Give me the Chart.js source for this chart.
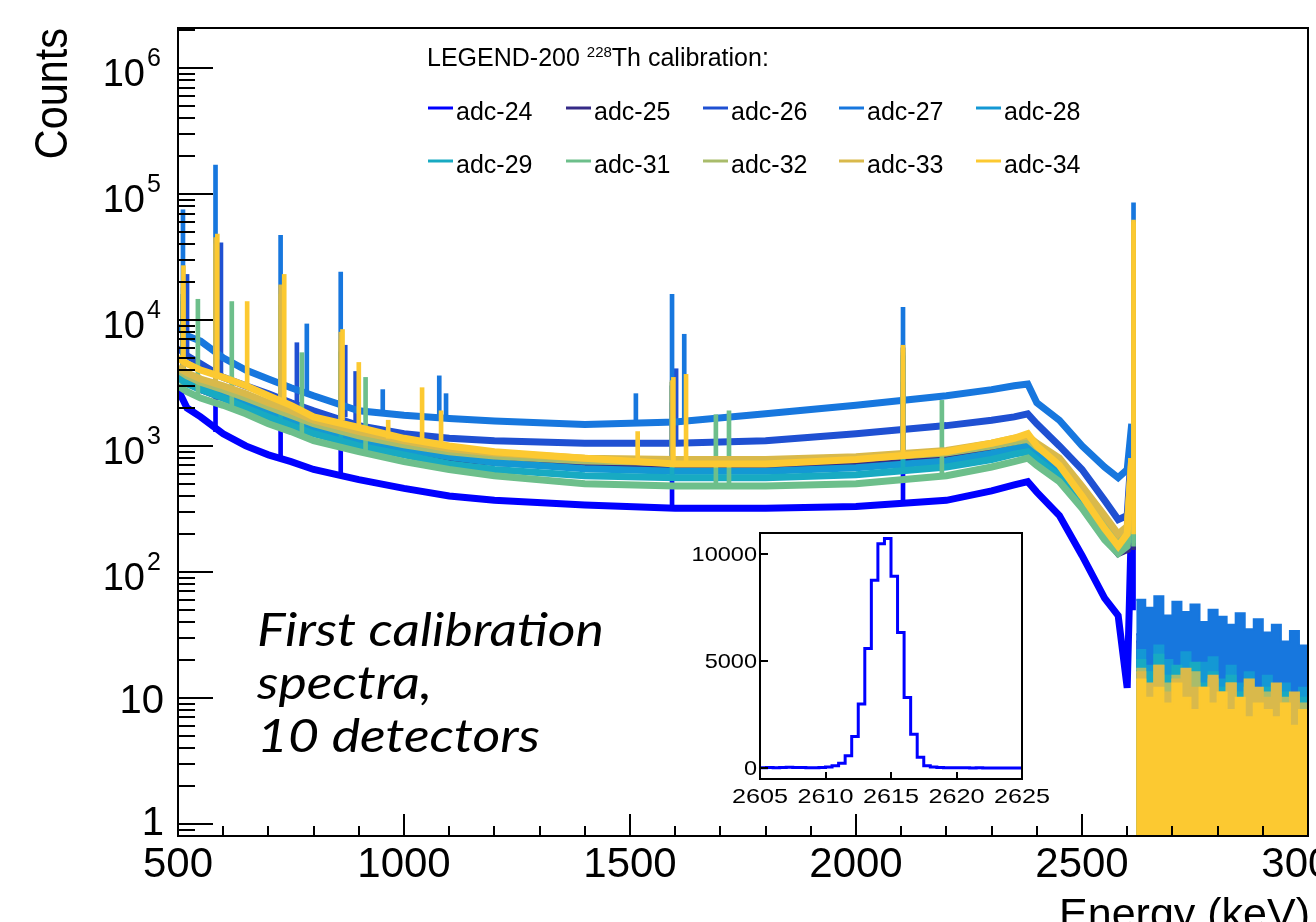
<!DOCTYPE html>
<html lang="en">
<head>
<meta charset="UTF-8">
<title>LEGEND-200 228Th calibration spectra</title>
<style>
    body {
        margin: 0;
        padding: 0;
        background: #fff;
    }
    #wrap {
        position: relative;
        width: 1316px;
        height: 922px;
        overflow: hidden;
    }
    #main { position: absolute; left: 0; top: 0; }
    #inset { position: absolute; left: 680px; top: 520px; }
</style>
</head>
<body>
<div id="wrap">
    <canvas id="main" width="1316" height="922"></canvas>
    <canvas id="inset" width="380" height="290"></canvas>
</div>

<script src="https://cdn.jsdelivr.net/npm/chart.js@4.4.1/dist/chart.umd.min.js"></script>
<script>
(function() {
    'use strict';

    // detectors, drawn in this order (last one on top)
    const detectors = ['adc-24', 'adc-25', 'adc-26', 'adc-27', 'adc-28', 'adc-29', 'adc-31', 'adc-32', 'adc-33', 'adc-34'];
    const lineColors = ['#0000ff', '#352a87', '#1f50d2', '#1777de', '#1498d4', '#18aac2', '#6dbf8b', '#a9bc6b', '#d9b94b', '#fcc931'];

    // continuum, counts per bin (keV)
    const energy = [500, 520, 550, 600, 650, 700, 750, 800, 900, 1000, 1100, 1200, 1400, 1600, 1800, 2000, 2200, 2300, 2350, 2380, 2400, 2450, 2500, 2550, 2580, 2600, 2610];
    const counts24 = [2800, 2000, 1700, 1250, 1000, 850, 750, 650, 540, 460, 400, 370, 340, 320, 320, 330, 370, 440, 490, 520, 430, 280, 135, 62, 45, 12, 300];
    const counts25 = [3600, 3200, 2800, 2400, 2100, 1800, 1550, 1350, 1100, 920, 800, 740, 680, 650, 660, 700, 800, 920, 1000, 1050, 850, 600, 330, 190, 140, 150, 700];
    const counts26 = [6000, 5200, 4500, 3500, 3000, 2600, 2200, 1900, 1450, 1250, 1150, 1100, 1050, 1050, 1100, 1250, 1450, 1600, 1700, 1800, 1500, 1000, 650, 370, 260, 280, 1000];
    const counts27 = [9000, 7500, 6800, 5000, 4000, 3400, 2900, 2500, 1900, 1750, 1650, 1580, 1480, 1550, 1800, 2100, 2500, 2800, 3000, 3100, 2200, 1600, 1000, 680, 560, 650, 1500];
    const counts28 = [3800, 3300, 3000, 2600, 2200, 1850, 1600, 1400, 1120, 950, 820, 740, 660, 630, 630, 670, 760, 870, 950, 1000, 850, 620, 360, 210, 160, 180, 700];
    const counts29 = [3500, 3100, 2800, 2400, 2000, 1700, 1450, 1250, 1000, 850, 720, 650, 580, 560, 560, 590, 680, 780, 860, 900, 780, 580, 350, 200, 150, 170, 650];
    const counts31 = [3000, 2700, 2400, 2100, 1800, 1500, 1300, 1100, 900, 750, 650, 580, 500, 480, 480, 500, 580, 680, 750, 800, 700, 520, 320, 180, 140, 160, 600];
    const counts32 = [4000, 3600, 3200, 2800, 2400, 2050, 1750, 1500, 1200, 1020, 900, 830, 760, 740, 750, 790, 880, 1000, 1080, 1130, 980, 740, 440, 250, 180, 210, 750];
    const counts33 = [4200, 3800, 3400, 3000, 2600, 2200, 1900, 1600, 1300, 1100, 950, 880, 800, 780, 780, 820, 920, 1050, 1150, 1200, 1050, 800, 480, 280, 200, 230, 800];
    const counts34 = [5000, 4500, 4000, 3500, 3000, 2500, 2100, 1700, 1400, 1150, 1000, 900, 800, 720, 720, 780, 900, 1050, 1150, 1250, 1000, 700, 400, 220, 160, 200, 800];

    // gamma lines: [energy, continuum under the line, peak top]
    const peaks24 = [[511, 2600, 14000], [583, 1300, 26000], [727, 820, 9000], [860, 600, 4000], [1593, 330, 2200], [2104, 360, 3200], [2614, 50, 50000]];
    const peaks25 = [[511, 3500, 16000], [583, 2500, 32000], [727, 1700, 12000], [860, 1200, 5500], [1593, 650, 3000], [2104, 760, 5200], [2614, 150, 55000]];
    const peaks26 = [[520, 5200, 23000], [595, 3500, 41000], [763, 2150, 6600], [870, 1700, 6300], [893, 1550, 3900], [1602, 1050, 4100], [2104, 1400, 6000], [2614, 300, 58000]];
    const peaks27 = [[511, 8500, 75000], [583, 5100, 170000], [727, 3300, 47000], [785, 2700, 9300], [860, 2100, 24000], [953, 1800, 2800], [1078, 1650, 3600], [1093, 1640, 2600], [1513, 1500, 2600], [1593, 1520, 16000], [1620, 1540, 7700], [2104, 2300, 12600], [2614, 650, 85000]];
    const peaks28 = [[511, 3700, 16000], [583, 2600, 33000], [727, 1800, 13000], [860, 1300, 5600], [1593, 630, 3200], [2104, 700, 5500], [2614, 180, 57000]];
    const peaks29 = [[511, 3400, 15000], [583, 2400, 30000], [727, 1600, 12000], [860, 1150, 5000], [1593, 560, 3000], [2104, 620, 5000], [2614, 170, 56000]];
    const peaks31 = [[544, 2450, 14600], [619, 2000, 14000], [774, 1200, 5500], [915, 880, 3500], [1690, 480, 1770], [1719, 480, 1900], [2190, 570, 2300], [2614, 160, 52000]];
    const peaks32 = [[511, 3900, 18000], [583, 2850, 40000], [727, 1900, 16000], [860, 1450, 7000], [1593, 740, 3200], [2104, 850, 5800], [2614, 210, 58000]];
    const peaks33 = [[511, 4100, 20000], [583, 3050, 45000], [727, 2050, 19000], [860, 1550, 8000], [1593, 780, 3300], [2104, 900, 6000], [2614, 230, 60000]];
    const peaks34 = [[512, 4900, 27000], [587, 3450, 48000], [653, 2950, 14000], [735, 2250, 23000], [864, 1600, 8400], [900, 1400, 4600], [965, 1150, 1600], [1040, 1050, 2900], [1082, 980, 1900], [1517, 760, 1300], [1596, 720, 3500], [1624, 720, 3700], [2104, 800, 6300], [2614, 200, 62000]];

    // above the 2614 keV line
    const tailEnergy = [2620, 2640, 2660, 2680, 2700, 2720, 2740, 2760, 2780, 2800, 2820, 2840, 2860, 2880, 2900, 2920, 2940, 2960, 2980, 3000];
    const tail24 = [3, 2, 3, 2, 2, 3, 2, 2, 2, 2, 2, 2, 2, 2, 2, 2, 2, 2, 2, 2];
    const tail25 = [28, 22, 30, 20, 25, 18, 22, 16, 24, 19, 15, 20, 14, 17, 13, 16, 12, 14, 11, 13];
    const tail26 = [32, 24, 36, 26, 22, 30, 24, 19, 27, 21, 18, 24, 17, 20, 15, 19, 14, 17, 13, 15];
    const tail27 = [60, 52, 64, 45, 58, 48, 55, 40, 50, 44, 38, 47, 35, 42, 33, 38, 28, 34, 26, 30];
    const tail28 = [24, 18, 26, 20, 17, 23, 15, 19, 21, 14, 18, 13, 16, 12, 15, 11, 13, 10, 12, 10];
    const tail29 = [20, 16, 22, 15, 18, 14, 19, 13, 16, 12, 15, 11, 14, 10, 12, 9, 11, 9, 10, 8];
    const tail31 = [14, 11, 15, 10, 12, 9, 13, 10, 11, 8, 10, 7, 9, 8, 9, 6, 8, 6, 7, 6];
    const tail32 = [17, 12, 18, 13, 15, 11, 16, 12, 14, 10, 13, 9, 12, 10, 11, 8, 10, 8, 9, 7];
    const tail33 = [16, 13, 18, 11, 14, 17, 12, 10, 15, 11, 13, 9, 14, 12, 10, 13, 9, 11, 8, 9];
    const tail34 = [14, 10, 12, 9, 13, 10, 8, 12, 9, 11, 8, 10, 7, 9, 8, 7, 9, 6, 8, 7];

    // inset: adc-24 around 2614.5 keV, 0.5 keV bins (left edges, last = right end)
    const insetEnergy = [2605, 2605.5, 2606, 2606.5, 2607, 2607.5, 2608, 2608.5, 2609, 2609.5,
        2610, 2610.5, 2611, 2611.5, 2612, 2612.5, 2613, 2613.5, 2614, 2614.5,
        2615, 2615.5, 2616, 2616.5, 2617, 2617.5, 2618, 2618.5, 2619, 2619.5,
        2620, 2620.5, 2621, 2621.5, 2622, 2622.5, 2623, 2623.5, 2624, 2624.5, 2625];
    const insetCounts = [20, 25, 20, 30, 35, 30, 25, 20, 15, 25,
        45, 110, 230, 570, 1470, 2990, 5580, 8760, 10460, 10700,
        8940, 6320, 3290, 1580, 500, 110, 45, 25, 20, 15,
        12, 10, 8, 10, 6, 8, 5, 6, 4, 5, 5];

    // axis ticks
    const energyTicks = [500, 1000, 1500, 2000, 2500, 3000];
    const countDecades = [0, 1, 2, 3, 4, 5, 6];
    const insetEnergyTicks = [2605, 2610, 2615, 2620, 2625];
    const insetCountTicks = [0, 5000, 10000];

    const continuum = [counts24, counts25, counts26, counts27, counts28, counts29, counts31, counts32, counts33, counts34];
    const peaks = [peaks24, peaks25, peaks26, peaks27, peaks28, peaks29, peaks31, peaks32, peaks33, peaks34];
    const tails = [tail24, tail25, tail26, tail27, tail28, tail29, tail31, tail32, tail33, tail34];

    const SANS = '"Liberation Sans", Arial, Helvetica, sans-serif';

    function txt(ctx, s, x, y, size, align, opt) {
        opt = opt || {};
        ctx.save();
        ctx.font = (opt.style || '') + ' ' + size + 'px ' + (opt.family || SANS);
        ctx.fillStyle = opt.color || '#000';
        ctx.textAlign = align || 'left';
        ctx.textBaseline = 'alphabetic';
        ctx.translate(x, y);
        if (opt.rotate) ctx.rotate(opt.rotate);
        ctx.scale(opt.sx || 1, 1);
        ctx.fillText(s, 0, 0);
        ctx.restore();
    }

    function measure(ctx, s, size, opt) {
        opt = opt || {};
        ctx.save();
        ctx.font = (opt.style || '') + ' ' + size + 'px ' + (opt.family || SANS);
        const w = ctx.measureText(s).width;
        ctx.restore();
        return w;
    }

    var datasets = [];
    detectors.forEach(function(name, i) {
        const color = lineColors[i];
        const order = detectors.length - 1 - i;
        datasets.push({
            type: 'line',
            label: name,
            order: order,
            data: energy.map(function(e, k) { return {x: e, y: continuum[i][k]}; }),
            borderColor: color,
            borderWidth: 7,
            pointRadius: 0,
            tension: 0,
            fill: false,
            clip: 0
        });
        datasets.push({
            type: 'bar',
            label: name + ' lines',
            order: order,
            data: peaks[i].map(function(p) { return {x: p[0], y: [p[1], p[2]]}; }),
            backgroundColor: color,
            barThickness: 4,
            grouped: false,
            clip: 0
        });
        datasets.push({
            type: 'line',
            label: name + ' tail',
            order: order,
            data: tailEnergy.map(function(e, k) { return {x: e, y: tails[i][k]}; }),
            borderColor: color,
            backgroundColor: color,
            borderWidth: 2,
            pointRadius: 0,
            stepped: true,
            fill: 'start',
            clip: 0
        });
    });

    // ROOT-like frame, inward ticks, labels, legend
    const mainDecor = {
        id: 'mainDecor',
        afterDraw: function(chart) {
            const ctx = chart.ctx;
            const a = chart.chartArea;
            const xs = chart.scales.x;
            const ys = chart.scales.y;

            ctx.save();
            ctx.strokeStyle = '#000';
            ctx.lineWidth = 2;
            ctx.strokeRect(a.left, a.top, a.right - a.left, a.bottom - a.top);
            ctx.beginPath();
            for (let p = -1; p <= 6; p++) {
                for (let m = 1; m <= 9; m++) {
                    const v = m * Math.pow(10, p);
                    if (v < ys.min || v > ys.max) continue;
                    const py = Math.round(ys.getPixelForValue(v));
                    ctx.moveTo(a.left, py);
                    ctx.lineTo(a.left + (m === 1 ? 35 : 17), py);
                }
            }
            for (let e = 500; e <= 3000; e += 100) {
                const px = Math.round(xs.getPixelForValue(e));
                ctx.moveTo(px, a.bottom);
                ctx.lineTo(px, a.bottom - (e % 500 === 0 ? 22 : 10));
            }
            ctx.stroke();
            ctx.restore();

            // tick labels
            energyTicks.forEach(function(e) {
                txt(ctx, String(e), xs.getPixelForValue(e), 877, 42, 'center');
            });
            countDecades.forEach(function(n) {
                const py = ys.getPixelForValue(Math.pow(10, n));
                if (n === 0) {
                    txt(ctx, '1', 164, py + 11, 40, 'right');
                } else if (n === 1) {
                    txt(ctx, '10', 164, py + 15, 40, 'right');
                } else {
                    txt(ctx, '10', 145, py + 18, 38, 'right');
                    txt(ctx, String(n), 147, py - 2, 25, 'left');
                }
            });

            // axis titles
            txt(ctx, 'Counts', 67, a.top, 46, 'right', {rotate: -Math.PI / 2, sx: 0.9});
            txt(ctx, 'Energy (keV)', 1310, 928, 43, 'right');

            // legend
            let lx = 427;
            txt(ctx, 'LEGEND-200 ', lx, 66, 25, 'left');
            lx += measure(ctx, 'LEGEND-200 ', 25);
            txt(ctx, '228', lx, 57, 15, 'left');
            lx += measure(ctx, '228', 15);
            txt(ctx, 'Th calibration:', lx, 66, 25, 'left');

            const colX = [428, 566, 703, 839, 976];
            const rowY = [120, 173];
            detectors.forEach(function(name, i) {
                const cx = colX[i % 5];
                const by = rowY[Math.floor(i / 5)];
                ctx.save();
                ctx.strokeStyle = lineColors[i];
                ctx.lineWidth = 3;
                ctx.beginPath();
                ctx.moveTo(cx, by - 12);
                ctx.lineTo(cx + 25, by - 12);
                ctx.stroke();
                ctx.restore();
                txt(ctx, name, cx + 28, by, 25, 'left');
            });

            // annotation
            const note = ['First calibration', 'spectra,', '10 detectors'];
            const noteFont = {style: 'italic', family: 'Lato, "Open Sans", sans-serif'};
            const sx = 347 / measure(ctx, note[0], 46, noteFont);
            note.forEach(function(line, k) {
                txt(ctx, line, 257, 646 + k * 53, 46, 'left', {style: 'italic', family: noteFont.family, sx: sx});
            });
        }
    };

    new Chart(document.getElementById('main'), {
        type: 'line',
        data: { datasets: datasets },
        options: {
            responsive: false,
            animation: false,
            devicePixelRatio: 1,
            events: [],
            layout: { padding: { top: 28, right: 8, left: 0, bottom: 0 } },
            plugins: {
                legend: { display: false },
                tooltip: { enabled: false }
            },
            scales: {
                x: {
                    type: 'linear',
                    min: 500,
                    max: 3000,
                    offset: false,
                    ticks: { display: false },
                    grid: { display: false },
                    border: { display: false },
                    afterFit: function(s) { s.height = 86; }
                },
                y: {
                    type: 'logarithmic',
                    min: 0.8,
                    max: 2.08e6,
                    ticks: { display: false },
                    grid: { display: false },
                    border: { display: false },
                    afterFit: function(s) { s.width = 178; }
                }
            }
        },
        plugins: [mainDecor]
    });

    const insetDecor = {
        id: 'insetDecor',
        beforeDatasetsDraw: function(chart) {
            const a = chart.chartArea;
            chart.ctx.save();
            chart.ctx.fillStyle = '#fff';
            chart.ctx.fillRect(a.left, a.top, a.right - a.left, a.bottom - a.top);
            chart.ctx.restore();
        },
        afterDraw: function(chart) {
            const ctx = chart.ctx;
            const a = chart.chartArea;
            const xs = chart.scales.x;
            const ys = chart.scales.y;
            ctx.save();
            ctx.strokeStyle = '#000';
            ctx.lineWidth = 2;
            ctx.strokeRect(a.left, a.top, a.right - a.left, a.bottom - a.top);
            ctx.beginPath();
            insetCountTicks.forEach(function(v) {
                const py = Math.round(ys.getPixelForValue(v));
                ctx.moveTo(a.left, py);
                ctx.lineTo(a.left + 8, py);
            });
            insetEnergyTicks.forEach(function(e) {
                const px = Math.round(xs.getPixelForValue(e));
                ctx.moveTo(px, a.bottom);
                ctx.lineTo(px, a.bottom - 7);
            });
            ctx.stroke();
            ctx.restore();

            insetCountTicks.forEach(function(v) {
                txt(ctx, String(v), a.left - 3, ys.getPixelForValue(v) + 7, 21, 'right', {sx: 1.12});
            });
            insetEnergyTicks.forEach(function(e) {
                txt(ctx, String(e), xs.getPixelForValue(e), 283, 21, 'center', {sx: 1.2});
            });
        }
    };

    new Chart(document.getElementById('inset'), {
        type: 'line',
        data: {
            datasets: [{
                label: 'adc-24',
                data: insetEnergy.map(function(e, k) { return {x: e, y: insetCounts[k]}; }),
                borderColor: '#0000ff',
                borderWidth: 3,
                pointRadius: 0,
                stepped: true,
                fill: false,
                clip: 0
            }]
        },
        options: {
            responsive: false,
            animation: false,
            devicePixelRatio: 1,
            events: [],
            layout: { padding: { top: 13, right: 38, left: 0, bottom: 0 } },
            plugins: {
                legend: { display: false },
                tooltip: { enabled: false }
            },
            scales: {
                x: {
                    type: 'linear',
                    min: 2605,
                    max: 2625,
                    ticks: { display: false },
                    grid: { display: false },
                    border: { display: false },
                    afterFit: function(s) { s.height = 31; }
                },
                y: {
                    type: 'linear',
                    min: -510,
                    max: 10960,
                    ticks: { display: false },
                    grid: { display: false },
                    border: { display: false },
                    afterFit: function(s) { s.width = 80; }
                }
            }
        },
        plugins: [insetDecor]
    });
})();
</script>
</body>
</html>
